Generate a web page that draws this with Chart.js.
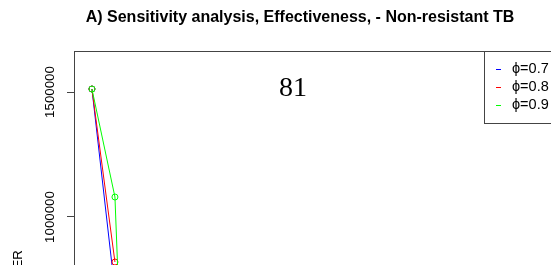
<!DOCTYPE html>
<html>
<head>
<meta charset="utf-8">
<script src="https://cdn.jsdelivr.net/npm/chart.js@4"></script>
<style>
  html, body { margin: 0; padding: 0; background: #fff; overflow: hidden; }
  #wrap { width: 551px; height: 265px; overflow: hidden; }
</style>
</head>
<body>
<div id="wrap"><canvas id="chart" width="600" height="550"></canvas></div>
<script>
// values (only the top-left part of the plot is visible)
const titleText = 'A) Sensitivity analysis, Effectiveness, - Non-resistant TB';
const yTitle = 'ICER';
const panelNote = '81';
const seriesLabels = ['\u03D5=0.7', '\u03D5=0.8', '\u03D5=0.9'];
const seriesColors = ['#0000FF', '#FF0000', '#00FF00'];
const xBlue = [1, 2];
const yBlue = [1512000, 704000];
const xRed = [1, 2];
const yRed = [1512000, 820000];
const xGreen = [1, 2, 2.2];
const yGreen = [1512000, 1080000, 600000];
const yTicks = [500000, 1000000, 1500000];

function toPoints(xs, ys) {
  return xs.map((x, i) => ({ x: x, y: ys[i] }));
}

// R-ish pieces: box, rotated y labels, title, legend, note
const rLook = {
  id: 'rLook',
  afterDraw(chart) {
    const ctx = chart.ctx;
    const a = chart.chartArea;
    const ys = chart.scales.y;
    ctx.save();

    // plot box
    ctx.strokeStyle = '#444';
    ctx.lineWidth = 1;
    ctx.strokeRect(Math.round(a.left) + 0.5, Math.round(a.top) + 0.5,
      Math.round(a.right - a.left), Math.round(a.bottom - a.top));

    // y tick labels, parallel to the axis
    ctx.fillStyle = '#000';
    ctx.font = '13.3px "Liberation Sans", Arial, sans-serif';
    ctx.textAlign = 'center';
    ctx.textBaseline = 'middle';
    ys.ticks.forEach(t => {
      const py = ys.getPixelForValue(t.value);
      ctx.save();
      ctx.translate(50, py);
      ctx.rotate(-Math.PI / 2);
      ctx.fillText(String(t.value), 0, 0);
      ctx.restore();
    });

    // y title
    ctx.save();
    ctx.translate(18, 266);
    ctx.rotate(-Math.PI / 2);
    ctx.fillText(yTitle, 0, 0);
    ctx.restore();

    // main title
    ctx.font = 'bold 16px "Liberation Sans", Arial, sans-serif';
    ctx.fillText(titleText, 300, 18);

    // note
    ctx.font = '28px "Liberation Serif", "Times New Roman", serif';
    ctx.fillText(panelNote, 293, 89);

    // legend box (top right, inside plot)
    const lx = 484;
    const ly = Math.round(a.top);
    const rowH = 18;
    ctx.strokeStyle = '#444';
    ctx.strokeRect(lx + 0.5, ly + 0.5, Math.round(a.right) - lx, 72);
    ctx.font = '14.5px "Liberation Sans", Arial, sans-serif';
    ctx.textAlign = 'left';
    chart.data.datasets.forEach((ds, i) => {
      const ry = ly + 18 + i * rowH;
      ctx.strokeStyle = ds.borderColor;
      ctx.beginPath();
      ctx.moveTo(496, ry + 0.5);
      ctx.lineTo(501, ry + 0.5);
      ctx.stroke();
      ctx.fillStyle = '#000';
      ctx.fillText(ds.label, 512, ry);
    });
    ctx.restore();
  }
};

const mkSet = (i, xs, ys, order) => ({
  label: seriesLabels[i],
  data: toPoints(xs, ys),
  borderColor: seriesColors[i],
  backgroundColor: 'rgba(0,0,0,0)',
  borderWidth: 1,
  pointRadius: 3,
  pointBorderWidth: 1,
  pointBackgroundColor: 'rgba(0,0,0,0)',
  tension: 0,
  order: order,
});

new Chart(document.getElementById('chart').getContext('2d'), {
  type: 'line',
  data: {
    datasets: [
      mkSet(0, xBlue, yBlue, 3),
      mkSet(1, xRed, yRed, 2),
      mkSet(2, xGreen, yGreen, 1),
    ]
  },
  options: {
    responsive: false,
    animation: false,
    layout: { padding: { left: 0, top: 51, right: 40, bottom: 0 } },
    scales: {
      x: {
        type: 'linear',
        min: 0.22,
        max: 21.35,
        grid: { display: false },
        border: { display: false },
        ticks: { display: false },
        afterFit: s => { s.height = 60; },
      },
      y: {
        min: -92000,
        max: 1664000,
        afterBuildTicks: s => { s.ticks = yTicks.map(v => ({ value: v })); },
        grid: { drawOnChartArea: false, drawTicks: true, tickLength: 7, color: '#444' },
        border: { display: false },
        ticks: { display: false },
        afterFit: s => { s.width = 74; },
      }
    },
    plugins: {
      legend: { display: false },
      tooltip: { enabled: false },
    }
  },
  plugins: [rLook]
});
</script>
</body>
</html>
